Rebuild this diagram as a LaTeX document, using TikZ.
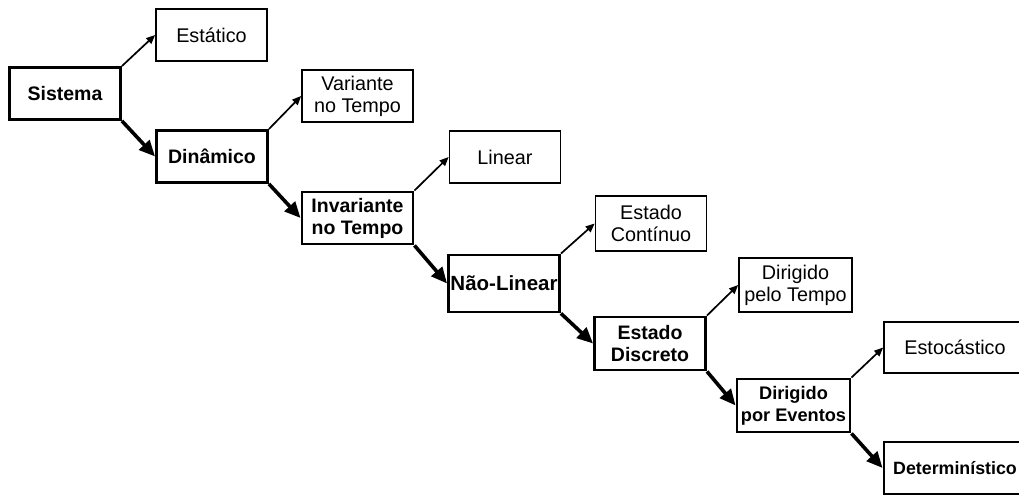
\documentclass[tikz,border=0pt]{standalone}
\usepackage{fontspec}
\setmainfont{Liberation Sans}
\usetikzlibrary{arrows.meta}
\begin{document}
\begin{tikzpicture}[x=1pt,y=-1pt,
  leaf/.style={draw, line width=1.7pt, minimum width=111pt, minimum height=52pt,
    align=center, inner sep=0pt, font=\fontsize{19.8}{22}\selectfont},
  main/.style={leaf, line width=2.9pt, font=\fontsize{19.5}{22}\selectfont\bfseries},
  up/.style={-{Triangle[length=9pt,width=7.5pt]}, line width=1.7pt},
  down/.style={-{Triangle[length=16pt,width=14pt]}, line width=3.6pt}]
\useasboundingbox (0,0) rectangle (1019,495);
\clip (0,0) rectangle (1019,495);

% classification chain
\node[main] (sis) at (65,93.5) {Sistema};
\node[leaf] (est) at (211.5,35) {Estático};
\node[main] (din) at (212,156.5) {Dinâmico};
\node[leaf] (var) at (357.5,96) {Variante\\no Tempo};
\node[main] (inv) at (357.5,218) {Invariante\\no Tempo};
\node[leaf] (lin) at (505,157) {Linear};
\node[main, minimum height=57pt, font=\fontsize{20.5}{22}\selectfont\bfseries] (nl) at (504,283.5) {Não-Linear};
\node[leaf, minimum height=55pt] (ec) at (651,223.5) {Estado\\Contínuo};
\node[main, minimum height=53pt] (ed) at (650,343.5) {Estado\\Discreto};
\node[leaf, minimum width=113pt, minimum height=54pt] (dt) at (795.5,285) {Dirigido\\pelo Tempo};
\node[main, minimum width=113pt, minimum height=53pt, font=\fontsize{18.2}{22}\selectfont\bfseries] (dev) at (793.5,405.5) {Dirigido\\por Eventos};
\node[leaf, minimum width=142pt, minimum height=51pt] (sto) at (955,347.5) {Estocástico};
\node[main, minimum width=142pt, minimum height=52pt, font=\fontsize{17.8}{22}\selectfont\bfseries] (det) at (955,468) {Determinístico};

% branches: upper child thin, lower child thick
\draw[up] (sis.north east) -- (est.west);
\draw[down] (sis.south east) -- (din.west);
\draw[up] (din.north east) -- (var.west);
\draw[down] (din.south east) -- (inv.west);
\draw[up] (inv.north east) -- (lin.west);
\draw[down] (inv.south east) -- (nl.west);
\draw[up] (nl.north east) -- (ec.west);
\draw[down] (nl.south east) -- (ed.west);
\draw[up] (ed.north east) -- (dt.west);
\draw[down] (ed.south east) -- (dev.west);
\draw[up] (dev.north east) -- (sto.west);
\draw[down] (dev.south east) -- (det.west);
\end{tikzpicture}
\end{document}
